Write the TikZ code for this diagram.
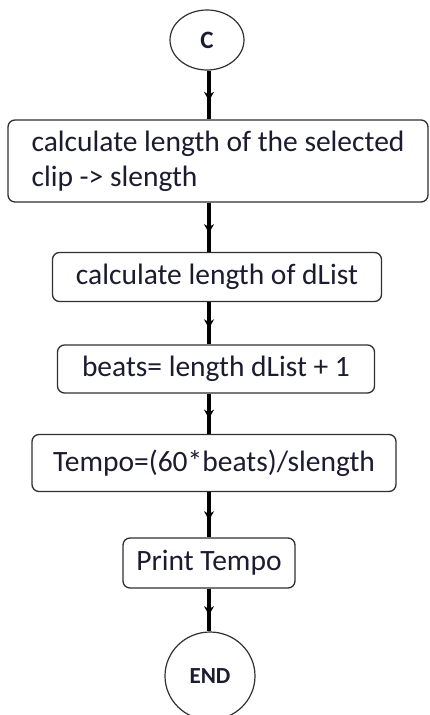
\documentclass[tikz,border=0pt]{standalone}
\usepackage{fontspec}
\setmainfont{Carlito}
\usetikzlibrary{arrows.meta, shapes.geometric, decorations.markings}
\definecolor{inkdark}{HTML}{1C1C30}
\definecolor{boxline}{HTML}{303030}

\begin{document}
\begin{tikzpicture}[x=1pt, y=-1pt,
    flowbox/.style={draw=boxline, line width=1.3pt, rounded corners=7pt, fill=white,
      text=inkdark, font=\fontsize{29.5}{35}\selectfont, inner sep=0pt},
    termnode/.style={draw=boxline, line width=1.2pt, ellipse, fill=white,
      text=inkdark, font=\fontsize{25}{28}\selectfont\bfseries, inner sep=0pt},
    flowline/.style={line width=4pt, black, postaction={decorate},
      decoration={markings, mark=at position 0.62 with {\arrow{Stealth[length=9pt, width=10pt]}}}}]
  \useasboundingbox (0,0) rectangle (429,715);
  \coordinate (spine) at (209,0);

  % start / end
  \node[termnode, minimum width=74pt, minimum height=60pt] (start) at (207,40) {C};
  \node[termnode, minimum width=90pt, minimum height=88pt, font=\fontsize{23}{25}\selectfont\bfseries] (stop) at (210,676) {END};

  % process steps
  \node[flowbox, minimum width=420pt, minimum height=82pt, align=left] (clip) at (218,161)
    {calculate length of the selected\\clip -> slength};
  \node[flowbox, minimum width=329pt, minimum height=49pt] (dlist) at (217,277) {calculate length of dList};
  \node[flowbox, minimum width=317pt, minimum height=48pt] (beats) at (216,369) {beats= length dList + 1};
  \node[flowbox, minimum width=364pt, minimum height=57pt] (tempo) at (214,463) {Tempo=(60*beats)/slength};
  \node[flowbox, minimum width=172pt, minimum height=50pt] (print) at (209,563) {Print Tempo};

  % connectors
  \draw[flowline] (start.south -| spine) -- (clip.north -| spine);
  \draw[flowline] (clip.south -| spine) -- (dlist.north -| spine);
  \draw[flowline] (dlist.south -| spine) -- (beats.north -| spine);
  \draw[flowline] (beats.south -| spine) -- (tempo.north -| spine);
  \draw[flowline] (tempo.south -| spine) -- (print.north -| spine);
  \draw[flowline] (print.south -| spine) -- (stop.north -| spine);
\end{tikzpicture}
\end{document}
